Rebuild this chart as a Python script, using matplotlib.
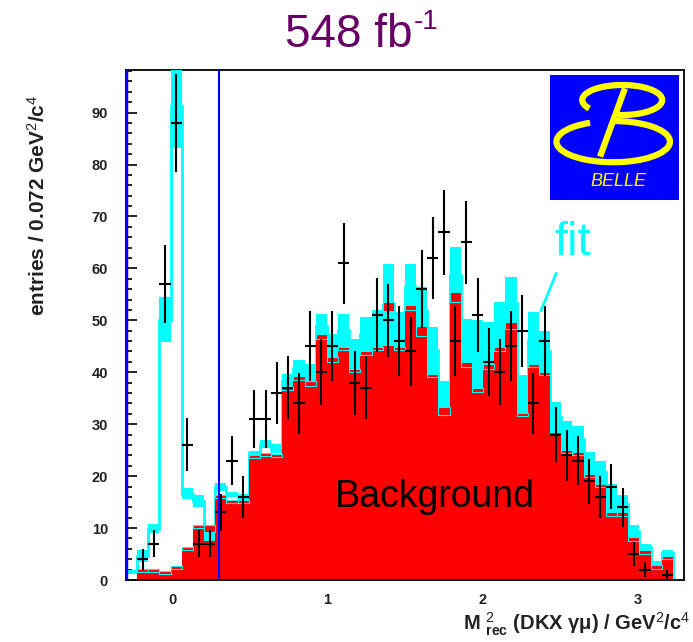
import numpy as np
import matplotlib
matplotlib.use("Agg")
import matplotlib.pyplot as plt
from matplotlib.patches import Arc, Rectangle
from matplotlib.ticker import MultipleLocator

plt.rcParams["font.family"] = ["Liberation Sans", "DejaVu Sans"]
plt.rcParams["mathtext.fontset"] = "custom"
plt.rcParams["mathtext.rm"] = "Liberation Sans"
plt.rcParams["mathtext.it"] = "Liberation Sans:italic"
plt.rcParams["mathtext.bf"] = "Liberation Sans:bold"

# histogram binning: 50 bins of 0.072 GeV^2/c^4
x_min, x_max, n_bins = -0.3, 3.3, 50

# data points (entries per bin)
counts = [0, 4, 7, 57, 88, 26, 7, 7, 13, 23,
          16, 31, 31, 36, 37, 34, 45, 40, 45, 61,
          38, 37, 51, 50, 46, 44, 56, 62, 67, 46,
          65, 51, 42, 40, 45, 48, 34, 46, 28, 24,
          23, 19, 16, 18, 14, 5, 2, 0, 1, 0]

# fit band (cyan): lower / upper edge
fit_lo = [1.2, 3.4, 9.1, 45.8, 83.1, 15.6, 14.0, 7.6, 17.2, 15.9,
          15.5, 24.0, 25.5, 24.4, 37.1, 39.2, 38.0, 46.5, 42.5, 44.8,
          40.5, 44.0, 44.8, 45.0, 44.5, 52.0, 47.0, 39.7, 31.7, 53.5,
          41.0, 36.2, 40.6, 44.0, 48.4, 32.2, 41.0, 40.0, 28.5, 25.0,
          24.6, 19.8, 18.5, 13.0, 13.0, 8.2, 5.7, 2.8, 4.7, 0.0]
fit_hi = [1.9, 5.7, 10.7, 54.5, 99.5, 17.7, 16.3, 9.2, 18.6, 17.0,
          16.5, 24.9, 26.9, 26.2, 39.7, 42.3, 41.6, 51.3, 47.4, 51.3,
          46.5, 50.6, 52.0, 60.9, 51.6, 60.9, 56.4, 48.7, 38.4, 64.1,
          50.3, 50.1, 49.7, 53.5, 58.3, 39.5, 51.6, 48.0, 34.2, 30.7,
          29.7, 24.6, 23.0, 18.5, 16.3, 10.5, 7.0, 3.7, 5.7, 0.0]

# background (red): band lower / upper edge
bg_lo = [0.0, 1.6, 1.6, 1.2, 2.1, 5.8, 10.0, 9.2, 15.8, 14.8,
         14.8, 23.4, 23.8, 23.6, 36.5, 38.6, 37.4, 46.5, 41.9, 44.2,
         40.0, 43.4, 44.2, 51.8, 44.2, 52.0, 47.0, 39.0, 31.7, 53.5,
         41.0, 36.2, 40.6, 44.0, 48.4, 31.6, 41.0, 39.4, 27.9, 24.4,
         24.0, 19.8, 17.9, 12.4, 12.4, 7.6, 5.1, 2.2, 4.1, 0.0]
bg_hi = [0.0, 2.1, 2.1, 1.7, 2.6, 6.3, 10.5, 10.5, 16.3, 15.4,
         15.4, 24.0, 24.4, 24.2, 37.1, 39.2, 38.4, 47.4, 42.9, 44.8,
         40.6, 44.0, 44.8, 53.5, 44.8, 52.9, 49.0, 39.7, 33.3, 55.4,
         41.9, 36.9, 41.6, 44.8, 49.7, 32.2, 41.6, 40.0, 28.5, 25.0,
         24.6, 20.4, 18.5, 13.0, 13.0, 8.2, 5.7, 2.8, 4.7, 0.0]

signal_cut = 0.3

CYAN = "#00ffff"
RED = "#ff0000"
BLUE = "#0000ff"

edges = np.linspace(x_min, x_max, n_bins + 1)
centers = 0.5 * (edges[:-1] + edges[1:])
width = edges[1] - edges[0]
counts = np.array(counts, float)
fit_lo, fit_hi = np.array(fit_lo), np.array(fit_hi)
bg_lo, bg_hi = np.array(bg_lo), np.array(bg_hi)

fig = plt.figure(figsize=(6.93, 6.42), dpi=100)
ax = fig.add_axes([126 / 693, 1 - 580 / 642, 558 / 693, 510 / 642])

# fit outline, background fill, fit band, background band
ax.stairs(0.5 * (fit_lo + fit_hi), edges, color=CYAN, lw=2, zorder=1)
ax.stairs(bg_hi, edges, fill=True, color=RED, lw=0, zorder=2)
ax.bar(centers, fit_hi - fit_lo, bottom=fit_lo, width=width, color=CYAN, lw=0, zorder=3)
ax.bar(centers, bg_hi - bg_lo, bottom=bg_lo, width=width, color=RED,
       edgecolor=CYAN, lw=0.8, zorder=4)

m = counts > 0
ax.errorbar(centers[m], counts[m], xerr=width / 2, yerr=np.sqrt(counts[m]),
            fmt="none", ecolor="black", elinewidth=1.5, capsize=0, zorder=5)

ax.axvline(signal_cut, color=BLUE, lw=1.5, zorder=6)
ax.axvline(x_min, color=BLUE, lw=2.5, zorder=6)

ax.set_xlim(x_min, x_max)
ax.set_ylim(0, 98.2)
ax.xaxis.set_major_locator(MultipleLocator(1))
ax.xaxis.set_minor_locator(MultipleLocator(0.2))
ax.yaxis.set_major_locator(MultipleLocator(10))
ax.yaxis.set_minor_locator(MultipleLocator(2))
ax.tick_params(which="both", direction="in", top=False, right=False, width=1.2)
ax.tick_params(which="major", length=8, labelsize=10.5, labelcolor="#222222")
ax.tick_params(axis="y", which="major", pad=13)
ax.tick_params(axis="x", which="major", pad=9)
ax.tick_params(which="minor", length=4)
for lab in ax.get_xticklabels() + ax.get_yticklabels():
    lab.set_fontweight("bold")
for s in ax.spines.values():
    s.set_linewidth(1.3)

ax.text(1.69, 15.9, "Background", fontsize=27, ha="center", va="center", zorder=7)
ax.text(2.58, 64.8, "fit", fontsize=34, color=CYAN, ha="center", va="center", zorder=7)
ax.plot([2.475, 2.378], [59.0, 51.9], color=CYAN, lw=2, zorder=7)

fig.text(38 / 693, 1 - 205 / 642, "entries / 0.072 GeV$^{2}$/c$^{4}$", rotation=90,
         fontsize=15, fontweight="bold", ha="center", va="center", color="#222222")
fig.text(690 / 693, 1 - 624 / 642,
         r"M $^{2}_{\mathbf{rec}}$ (DKX γμ) / GeV$^{2}$/c$^{4}$",
         fontsize=14.5, fontweight="bold", ha="right", va="center", color="#222222")

# title with a short hyphen in the exponent
fig.text(285 / 693, 1 - 47 / 642, "548 fb", fontsize=33, color="#660066",
         ha="left", va="baseline")
fig.text(414 / 693, 1 - 29 / 642, "-1", fontsize=20, color="#660066",
         ha="left", va="baseline")

# Belle logo
lg = fig.add_axes([550 / 693, 1 - 200 / 642, 129 / 693, 125 / 642])
lg.set_xlim(0, 1)
lg.set_ylim(0, 1)
lg.axis("off")
lg.add_patch(Rectangle((0, 0), 1, 1, color=BLUE))
YEL = "#ffff00"
lg.add_patch(Arc((0.56, 0.80), 0.62, 0.24, theta1=-105, theta2=195, color=YEL, lw=4.5))
lg.add_patch(Arc((0.49, 0.467), 0.88, 0.33, theta1=140, theta2=450, color=YEL, lw=4.5))
lg.plot([0.581, 0.388], [0.893, 0.347], color=YEL, lw=4.5, solid_capstyle="butt")
lg.text(0.53, 0.15, "BELLE", color=YEL, fontsize=13, style="italic",
        ha="center", va="center")

fig.savefig("out.png", dpi=100)
